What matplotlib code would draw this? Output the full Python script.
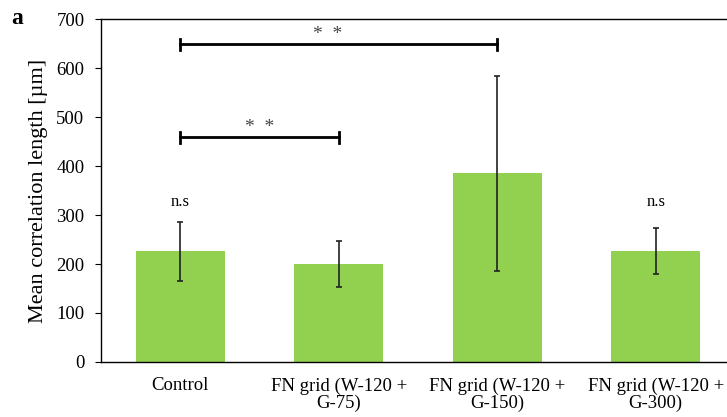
import matplotlib
matplotlib.use("Agg")
from matplotlib import pyplot as plt

categories = ["Control", "FN grid (W-120 +\nG-75)", "FN grid (W-120 +\nG-150)", "FN grid (W-120 +\nG-300)"]
means = [226, 200, 385, 226]
errors = [60, 46, 199, 47]
ns_labels = ["n.s", "", "", "n.s"]
ns_height = 327

# significance brackets: (x start, x end, height, star x)
brackets = [(0, 1, 459, 0.50), (0, 2, 649, 0.93)]
bracket_text = "*  *"

plt.rcParams["font.family"] = ["Liberation Serif", "DejaVu Serif"]

fig = plt.figure(figsize=(7.27, 4.17), dpi=100)
ax = fig.add_axes([0.139, 0.132, 0.872, 0.822])

x = list(range(len(categories)))
ax.bar(x, means, width=0.56, color="#92D050", zorder=2)
ax.errorbar(x, means, yerr=errors, fmt="none", ecolor="#222222",
            elinewidth=1.2, capsize=2.5, capthick=1.2, zorder=3)

for xi, lab in zip(x, ns_labels):
    if lab:
        ax.text(xi, ns_height, lab, ha="center", va="center", fontsize=12)

for x0, x1, h, sx in brackets:
    ax.plot([x0, x1], [h, h], color="black", lw=2, zorder=4)
    ax.plot([x0, x0], [h - 11, h + 11], color="black", lw=2, zorder=4)
    ax.plot([x1, x1], [h - 11, h + 11], color="black", lw=2, zorder=4)
    ax.text(sx, h + 20, bracket_text, ha="center", va="center",
            fontsize=14, color="#444444")

ax.set_xlim(-0.5, 3.5)
ax.set_ylim(0, 700)
ax.set_yticks(range(0, 701, 100))
ax.set_xticks(x)
ax.set_xticklabels(categories, fontsize=13.5, linespacing=1.0)
ax.tick_params(axis="x", length=0, pad=11)
ax.tick_params(axis="y", labelsize=13.5, length=4, direction="out", pad=8)
ax.set_ylabel("Mean correlation length [µm]", fontsize=16, labelpad=6)

ax.spines["right"].set_visible(False)
for s in ["left", "top", "bottom"]:
    ax.spines[s].set_linewidth(1.0)

fig.text(0.016, 0.942, "a", fontsize=17, fontweight="bold")

fig.savefig("out.png", dpi=100)
